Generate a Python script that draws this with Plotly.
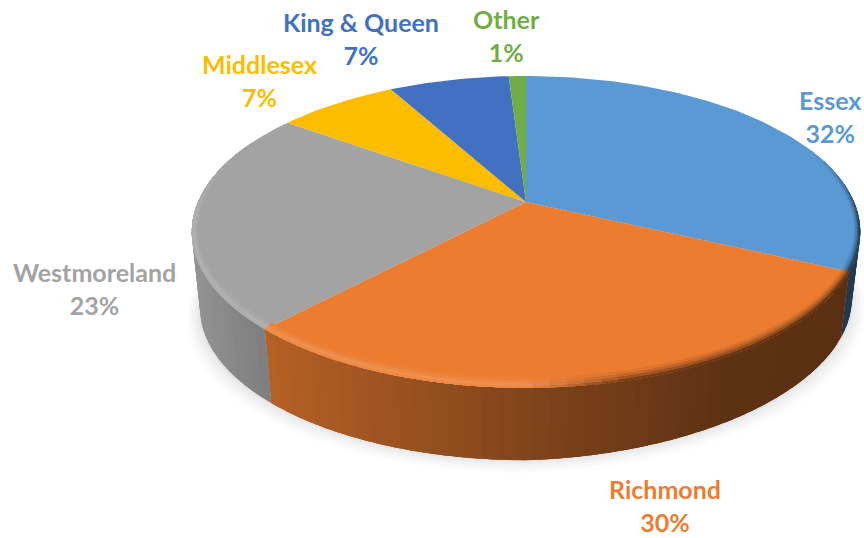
import numpy as np
import plotly.graph_objects as go

categories = ["Essex", "Richmond", "Westmoreland", "Middlesex", "King & Queen", "Other"]
shares = [32, 30, 23, 7, 7, 1]
colors = ["#5A99D4", "#EB7C30", "#A3A3A3", "#FCBD00", "#4271C1", "#70AD47"]
label_pos = [(830, 116), (665, 505), (94, 288), (259, 80), (361, 38), (506, 35)]

# projection of the tilted disc
CX, CY, R, B, K = 526.0, 202.0, 328.0, 150.2, 0.192
BOTTOM_SCALE, BOTTOM_SHIFT = 0.975, 77.0


def project(a_deg, rx=1.0, ry=1.0, bottom=False):
    a = np.radians(np.asarray(a_deg, dtype=float))
    x, y = rx * np.sin(a), ry * np.cos(a)
    s = 1 / (1 + K * y)
    dx, dy = R * x * s, -B * y * s
    if bottom:
        return CX + dx * BOTTOM_SCALE, CY + dy * BOTTOM_SCALE + BOTTOM_SHIFT - 0.03 * np.clip(dx, 0, None)
    return CX + dx, CY + dy


def rgb(h):
    return np.array([int(h[i:i + 2], 16) for i in (1, 3, 5)], dtype=float)


def css(c):
    c = np.clip(c, 0, 255).round().astype(int)
    return f"rgb({c[0]},{c[1]},{c[2]})"


def shade(fx):
    return np.interp(fx, [0, .1, .5, .8, 1], [.90, .78, .55, .40, .38])


def poly(fig, xs, ys, color):
    fig.add_trace(go.Scatter(x=list(xs), y=list(ys), mode="lines", fill="toself", fillcolor=color,
                             line=dict(width=0), hoverinfo="skip", showlegend=False))


fig = go.Figure()

# soft shadow below the wall
theta = np.linspace(0, 360, 181)
for grow, alpha in [(14, .012), (11, .016), (8, .02), (5, .025), (2, .03)]:
    sx, sy = project(theta, bottom=True)
    sx = CX + (sx - CX) * (1 + grow / 330)
    sy = sy + grow * 0.9
    poly(fig, sx, sy, f"rgba(0,0,0,{alpha})")

edges = 3.6 * np.cumsum([0] + shares)
FX = lambda x: (x - 192) / 668

# wall: each strip overlaps the next one so that no seam shows
for i, c in enumerate(colors):
    lo, hi = edges[i], edges[i + 1]
    n = max(1, int(np.ceil((hi - lo) / 2.5)))
    grid = np.linspace(lo, hi, n + 1)
    for a0, a1 in zip(grid[:-1], grid[1:]):
        mid = (a0 + a1) / 2
        if np.cos(np.radians(mid)) > 0.25:
            continue
        span = np.linspace(a0, hi if a1 >= hi else min(hi, a1 + 4), 8)
        tx, ty = project(span)
        bx, by = project(span[::-1], bottom=True)
        col = css(rgb(c) * shade(FX(project(mid)[0])))
        poly(fig, list(tx) + list(bx), list(ty) + list(by), col)

# top face
for i, c in enumerate(colors):
    arc = np.linspace(edges[i], edges[i + 1], max(3, int(shares[i] * 3)))
    ax, ay = project(arc)
    poly(fig, [CX] + list(ax), [CY] + list(ay), c)

# bevelled rim of the top face; inner radii, then highlight and darkening strength
bands = [(.984, .955, .15, .12), (.988, .968, .40, .32), (.992, .98, .70, .58), (.996, .992, .5, .92)]
for band_rx, band_ry, hl, dk in bands:
    for i, c in enumerate(colors):
        base = rgb(c)
        lo, hi = edges[i], edges[i + 1]
        n = max(1, int(np.ceil((hi - lo) / 2.5)))
        grid = np.linspace(lo, hi, n + 1)
        for a0, a1 in zip(grid[:-1], grid[1:]):
            mid = (a0 + a1) / 2
            face = np.clip((0.35 - np.cos(np.radians(mid))) / 0.45, 0, 1)
            if face <= 0:
                continue
            fx = FX(project(mid)[0])
            dark_w = np.clip((fx - .5) / .15, 0, 1)
            wall = base * shade(fx)
            hi_col = base + (255 - base) * .22
            col = (1 - dark_w) * (base + (hi_col - base) * hl) + dark_w * (base + (wall - base) * dk)
            col = base + (col - base) * face
            span = np.linspace(a0, hi if a1 >= hi else min(hi, a1 + 4), 6)
            ox, oy = project(span)
            ix, iy = project(span[::-1], band_rx, band_ry)
            poly(fig, list(ox) + list(ix), list(oy) + list(iy), css(col))

# labels
for name, share, col, (lx, ly) in zip(categories, shares, colors, label_pos):
    fig.add_annotation(x=lx, y=ly, text=f"{name}<br>{share}%", showarrow=False,
                       font=dict(family="Lato, Carlito, sans-serif", size=25, color=col, weight="bold"),
                       align="center", xanchor="center", yanchor="middle")

fig.update_layout(width=864, height=538, margin=dict(l=0, r=0, t=0, b=0),
                  paper_bgcolor="white", plot_bgcolor="white", showlegend=False,
                  xaxis=dict(range=[0, 864], visible=False, fixedrange=True),
                  yaxis=dict(range=[538, 0], visible=False, fixedrange=True))
fig.write_html("out.html", config=dict(displayModeBar=False),
               post_script="document.body.style.margin='0';document.documentElement.style.overflow='hidden';")
